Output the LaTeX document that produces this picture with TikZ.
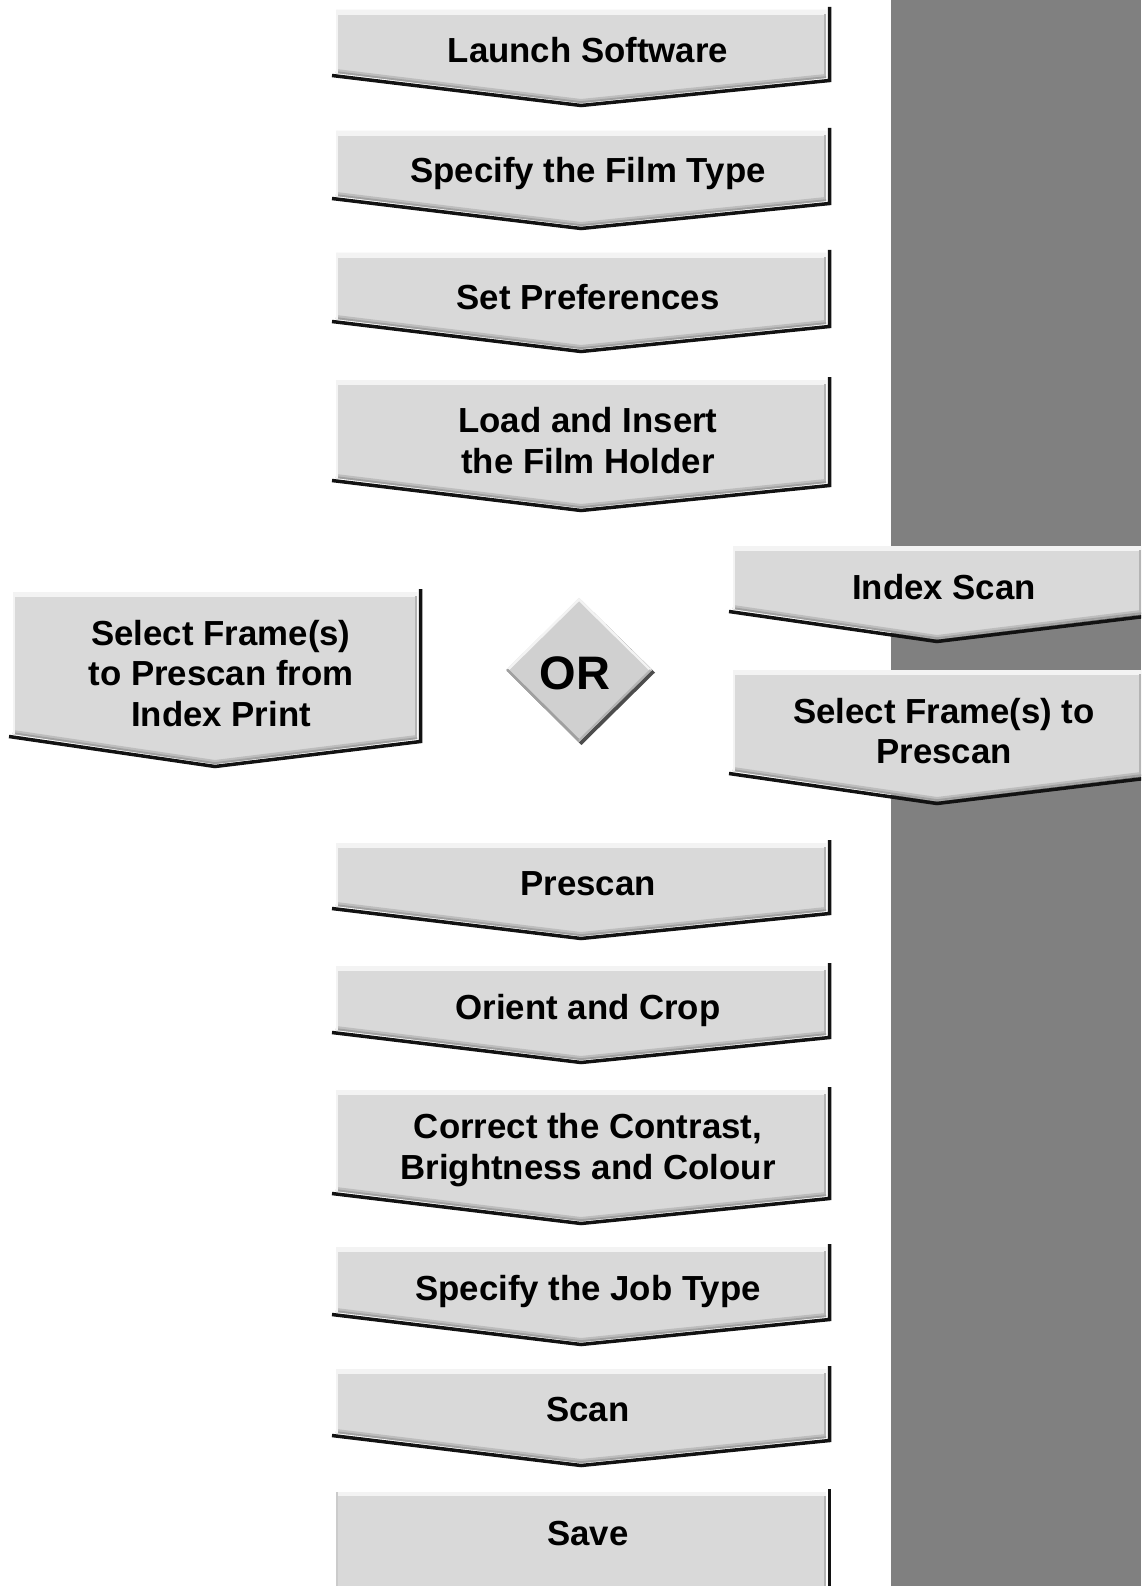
\documentclass[tikz,border=0pt]{standalone}
\usepackage{fontspec}
\setmainfont{Liberation Sans}
\definecolor{boxgray}{HTML}{D9D9D9}
\definecolor{stripgray}{HTML}{808080}
\definecolor{hilite}{HTML}{F3F3F3}
\definecolor{edgegray}{HTML}{B4B4B4}
\definecolor{bandgray}{HTML}{A0A0A0}
\definecolor{shade}{HTML}{121212}
\definecolor{dmdfill}{HTML}{D0D0D0}

\newcommand\mlines[1]{\vtop{\halign{\hfil##\hfil\cr#1\crcr}}}

\newcommand\chevron[4]{%
  \pgfmathsetmacro\xm{(#1+#2)/2}%
  \pgfmathsetmacro\ybr{#4+5}%
  \pgfmathsetmacro\ytip{#4+30}%
  \draw[shadowline] (#1-4,#4+2.5) -- (\xm,\ytip+2.5) -- (#2+3.5,\ybr+2.5) -- (#2+3.5,#3-3);
  \fill[boxgray] (#1,#3) -- (#2,#3) -- (#2,\ybr) -- (\xm,\ytip) -- (#1,#4) -- cycle;
  \draw[line width=4pt, color=boxgray!50!bandgray] (#1,#4-2) -- (\xm,\ytip-2) -- (#2,\ybr-2);
  \draw[line width=1.8pt, color=bandgray] (#1,#4-0.9) -- (\xm,\ytip-0.9) -- (#2,\ybr-0.9);
  \fill[hilite] (#1,#3) rectangle (#2,#3+5);
  \draw[line width=1.5pt, color=hilite] (#1+0.75,#3) -- (#1+0.75,#4);
  \draw[line width=2pt, color=edgegray] (#2-1,#3+4) -- (#2-1,\ybr-2);
}

\tikzset{
  shadowline/.style={line width=3.5pt, color=shade},
  lbl/.style={font=\fontsize{34.8}{40.3}\selectfont\bfseries, inner sep=0pt, text height=24.9pt, text depth=#1},
  lbl/.default=0pt,
  orlbl/.style={font=\fontsize{47}{54}\selectfont\bfseries, inner sep=0pt, text height=33.6pt, text depth=0pt}
}

\begin{document}
\begin{tikzpicture}[x=1pt,y=-1pt]
\useasboundingbox (0,0) rectangle (1141,1586);
\clip (0,0) rectangle (1141,1586);
\fill[white] (0,0) rectangle (1141,1586);
% grey strip on the right
\fill[stripgray] (891,0) rectangle (1141,1586);

% main column
\chevron{336}{826}{10}{73}
\chevron{336}{826}{131}{196}
\chevron{336}{826}{253}{319}
\chevron{336}{826}{380}{478}
\chevron{336}{826}{843}{906}
\chevron{336}{826}{966}{1030}
\chevron{336}{826}{1090}{1191}
\chevron{336}{826}{1247}{1312}
\chevron{336}{826}{1369}{1433}
% right column
\chevron{733}{1141}{546}{609}
\chevron{733}{1141}{670}{771}
% left box
\chevron{13}{417}{592}{734}

% Save box (runs off the page)
\draw[shadowline] (829.5,1489) -- (829.5,1600);
\fill[boxgray] (336,1492) rectangle (826,1600);
\fill[hilite] (336,1492) rectangle (826,1496);
\draw[line width=1.5pt, color=edgegray!70!white] (336.75,1492) -- (336.75,1600);
\draw[line width=2pt, color=edgegray] (825,1496) -- (825,1600);

% OR diamond
\fill[shade!75] (581.5,600.5) -- (655,672.5) -- (581.5,745) -- (508.5,672.5) -- cycle;
\fill[dmdfill] (579,598) -- (652,670) -- (579,742) -- (506,670) -- cycle;
\draw[line width=2.5pt, color=hilite, line cap=round] (507.5,670) -- (579,599.5) -- (650.5,670);
\draw[line width=2.5pt, color=bandgray, line cap=round] (507.5,670) -- (579,740.5);
\draw[line width=2pt, color=edgegray] (650.5,670) -- (579,740.5);

% labels
\node[lbl] (launch) at (588,50) {Launch Software};
\node[lbl] (film) at (588,170.5) {Specify the Film Type};
\node[lbl] (prefs) at (588,297.5) {Set Preferences};
\node[lbl=40.3pt] (load) at (588,440.5) {\mlines{Load and Insert\cr the Film Holder}};
\node[lbl] (index) at (944,587.5) {Index Scan};
\node[lbl=40.3pt] (selr) at (944,731) {\mlines{Select Frame(s) to\cr Prescan}};
\node[lbl=80.6pt] (sell) at (221,673.5) {\mlines{Select Frame(s)\cr to Prescan from\cr Index Print}};
\node[orlbl] (or) at (575,672.5) {OR};
\node[lbl] (prescan) at (588,883.5) {Prescan};
\node[lbl] (orient) at (588,1007.5) {Orient and Crop};
\node[lbl=40.3pt] (correct) at (588,1146.5) {\mlines{Correct the Contrast,\cr Brightness and Colour}};
\node[lbl] (job) at (588,1288) {Specify the Job Type};
\node[lbl] (scan) at (588,1409.5) {Scan};
\node[lbl] (save) at (588,1533.5) {Save};
\end{tikzpicture}
\end{document}
